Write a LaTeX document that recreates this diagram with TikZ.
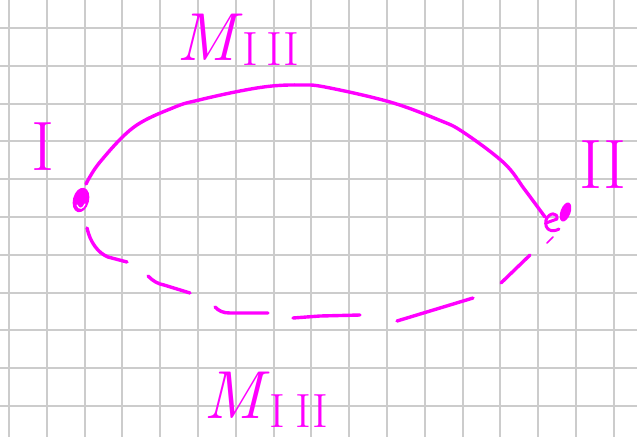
\documentclass[tikz,border=0pt]{standalone}
\usetikzlibrary{shapes.geometric}
\definecolor{gridc}{RGB}{204,204,204}
\definecolor{pen}{RGB}{255,0,255}
\begin{document}
\begin{tikzpicture}[x=1pt,y=-1pt,
  ink/.style={draw=pen, line width=3.4pt, line cap=round, line join=round},
  lbl/.style={text=pen, inner sep=0pt},
  gridline/.style={draw=gridc, line width=2pt},
  dotnode/.style={ellipse, fill=pen, inner sep=0pt}]
\useasboundingbox (0,0) rectangle (637,437);
\fill[white] (0,0) rectangle (637,437);
\foreach \i in {0,...,16} \draw[gridline] ({9+37.8*\i},0) -- ({9+37.8*\i},437);
\foreach \j in {0,...,10} \draw[gridline] (0,{28+37.8*\j}) -- (637,{28+37.8*\j});

% points I and II
\node[dotnode, minimum width=16pt, minimum height=25pt, rotate=-15] (d1) at (81,200) {};
\draw[white, line width=1.2pt, line cap=round] (77,205) .. controls (79,210) and (83,209) .. (85,204);
\node[dotnode, minimum width=10pt, minimum height=20pt, rotate=-20] (d2) at (565.5,212) {};
\draw[ink, line width=3pt] (546,223) -- (557,219) .. controls (558,212) and (549,212) .. (546,220) .. controls (544,230) and (552,233) .. (559,229);

\coordinate (a1) at (86,184);
\coordinate (a2) at (545,217);
\coordinate (b1) at (87,228);
\coordinate (b2) at (553,237);

% upper solid arc
\draw[ink] plot[smooth, tension=0.6] coordinates {(a1) (100,162) (134,127) (175,107) (199,100) (240,91) (272,86) (301,85) (325,87) (390,102) (439,120) (463,132) (504,163) (525,190) (a2)};

% lower dashed arc
\draw[ink] (b1) .. controls (90,242) and (98,253) .. (108,257) -- (127,262)
  (148,276) .. controls (153,281) and (158,284) .. (164,285) -- (190,293)
  (215,307) .. controls (219,311) and (223,313) .. (230,313) -- (268,313)
  (293,318) -- (320,316) -- (360,315)
  (397,321) -- (473,298)
  (501,283) -- (530,255);
\draw[ink, line width=1.6pt] (547,243) -- (b2);

% labels
\node[lbl, anchor=center] (lI) at (43,147) {\fontsize{70}{70}\selectfont I};
\node[lbl, anchor=center] (lII) at (603,165) {\fontsize{70}{70}\selectfont II};
\node[lbl, anchor=base west] (mtop) at (176,60) {\fontsize{68}{68}\selectfont\itshape M\/\raisebox{-5pt}{\upshape\fontsize{48}{48}\selectfont I\hspace{8pt}II}};
\node[lbl, anchor=base west] (mbot) at (203,418) {\fontsize{68}{68}\selectfont\itshape M\/\raisebox{-9pt}{\upshape\fontsize{48}{48}\selectfont I\hspace{10pt}II}};
\end{tikzpicture}
\end{document}
